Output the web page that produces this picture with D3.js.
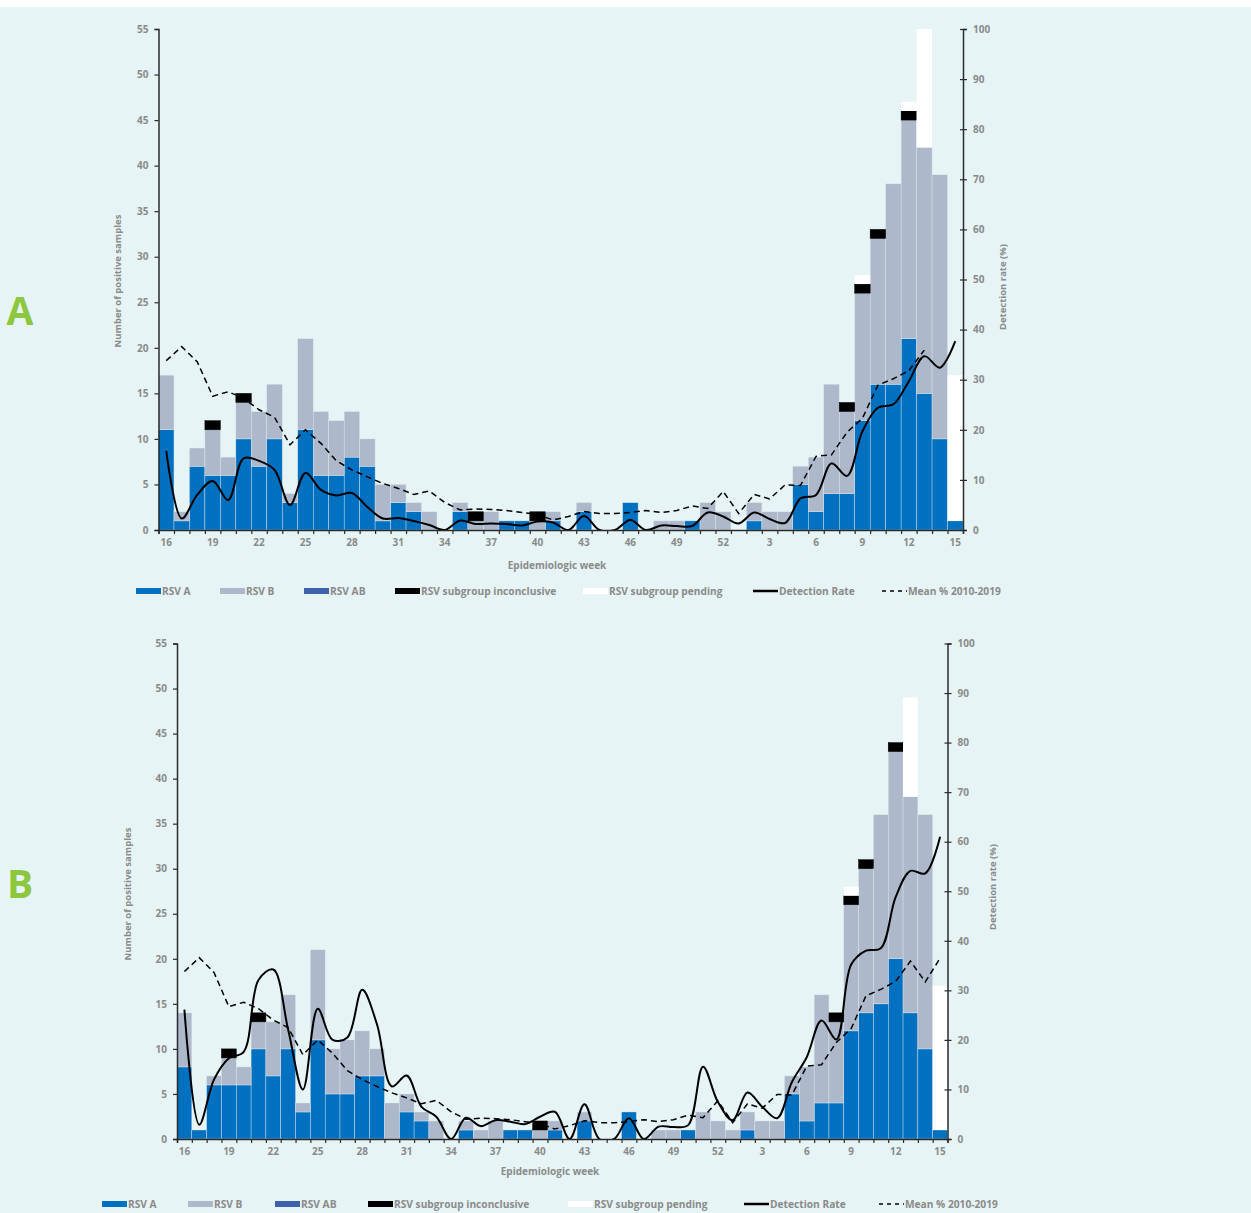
<!DOCTYPE html>
<html><head><meta charset="utf-8">
<script src="https://cdn.jsdelivr.net/npm/d3@7"></script>
<style>body{margin:0;background:#fff}svg{display:block}</style>
</head><body><svg id="c" width="1251" height="1213"></svg>
<script>
// ---------- DATA ----------
const weeks = [16,17,18,19,20,21,22,23,24,25,26,27,28,29,30,31,32,33,34,35,36,37,38,39,40,41,42,43,44,45,46,47,48,49,50,51,52,
               1,2,3,4,5,6,7,8,9,10,11,12,13,14,15];
const weekTickLabels = [16,19,22,25,28,31,34,37,40,43,46,49,52,3,6,9,12,15];
const countTicks = [0,5,10,15,20,25,30,35,40,45,50,55];
const rateTicks = [0,10,20,30,40,50,60,70,80,90,100];
const legendLabels = ["RSV A","RSV B","RSV AB","RSV subgroup inconclusive","RSV subgroup pending","Detection Rate","Mean % 2010-2019"];

// Panel A
const rsvA_A = [11,1,7,6,6,10,7,10,3,11,6,6,8,7,1,3,2,0,0,2,0,0,1,1,0,1,0,2,0,0,3,0,0,0,1,0,0,
                0,1,0,0,5,2,4,4,12,16,16,21,15,10,1];
const rsvB_A = [6,1,2,5,2,4,6,6,1,10,7,6,5,3,4,2,1,2,0,1,1,2,0,0,1,1,0,1,0,0,0,0,1,1,0,3,2,
                0,2,2,2,2,6,12,9,14,16,22,24,27,29,0];
const rsvAB_A = [0,0,0,0,0,0,0,0,0,0,0,0,0,0,0,0,0,0,0,0,0,0,0,0,0,0,0,0,0,0,0,0,0,0,0,0,0,
                 0,0,0,0,0,0,0,0,0,0,0,0,0,0,0];
const inconc_A = [0,0,0,1,0,1,0,0,0,0,0,0,0,0,0,0,0,0,0,0,1,0,0,0,1,0,0,0,0,0,0,0,0,0,0,0,0,
                  0,0,0,0,0,0,0,1,1,1,0,1,0,0,0];
const pending_A = [0,0,0,0,0,0,0,0,0,0,0,0,0,0,0,0,0,0,0,0,0,0,0,0,0,0,0,0,0,0,0,0,0,0,0,0,0,
                   0,0,0,0,0,0,0,0,1,0,0,1,13,0,16];
const detRate_A = [15.8,2.3,7.0,9.8,6.0,14.3,13.8,12.0,5.0,11.4,8.0,6.9,7.4,4.6,2.3,2.4,
                   1.8,1.0,0,1.9,1.2,1.3,1.2,0.9,1.7,1.5,0,2.8,0,0,2.0,0,0.9,0.8,0.8,3.5,2.7,
                   1.3,3.5,2.2,1.4,6.3,7.0,13.3,10.8,19.7,24.4,25.1,29.7,34.7,32.4,37.7];
const mean_A = [33.8,36.6,33.6,26.7,27.6,26.3,24.0,22.5,17.0,20.0,17.3,13.8,12.0,10.6,9.3,8.3,
                7.1,7.8,5.5,4.0,4.2,4.1,3.9,3.5,3.1,2.0,2.7,3.7,3.3,3.3,3.5,3.9,3.5,3.9,4.8,4.3,7.7,
                3.3,7.1,6.2,9.0,8.9,14.7,15.0,19.5,22.3,28.9,30.2,31.8,35.9];

// Panel B
const rsvA_B = [8,1,6,6,6,10,7,10,3,11,5,5,7,7,0,3,2,0,0,1,0,0,1,1,0,1,0,2,0,0,3,0,0,0,1,0,0,
                0,1,0,0,5,2,4,4,12,14,15,20,14,10,1];
const rsvB_B = [6,0,1,3,2,3,6,6,1,10,5,6,5,3,4,2,1,2,0,1,1,2,0,0,1,1,0,1,0,0,0,0,1,1,0,3,2,
                1,2,2,2,2,6,12,9,14,16,21,23,24,26,0];
const rsvAB_B = [0,0,0,0,0,0,0,0,0,0,0,0,0,0,0,0,0,0,0,0,0,0,0,0,0,0,0,0,0,0,0,0,0,0,0,0,0,
                 0,0,0,0,0,0,0,0,0,0,0,0,0,0,0];
const inconc_B = [0,0,0,1,0,1,0,0,0,0,0,0,0,0,0,0,0,0,0,0,0,0,0,0,1,0,0,0,0,0,0,0,0,0,0,0,0,
                  0,0,0,0,0,0,0,1,1,1,0,1,0,0,0];
const pending_B = [0,0,0,0,0,0,0,0,0,0,0,0,0,0,0,0,0,0,0,0,0,0,0,0,0,0,0,0,0,0,0,0,0,0,0,0,0,
                   0,0,0,0,0,0,0,0,1,0,0,0,11,0,16];
const detRate_B = [26.1,2.9,12.0,16.3,17.6,32.1,34.2,22.1,10.0,26.3,20.0,20.5,30.1,23.1,10.6,12.8,
                   6.5,4.5,0,4.3,2.6,3.8,3.5,3.0,4.5,5.5,0,7.0,0,0,4.2,0,2.5,2.4,2.8,14.6,7.5,
                   3.8,9.4,6.5,4.2,11.5,16.5,23.9,20.1,35.2,38.0,38.5,48.8,54.1,53.6,61.0];
const mean_B = [33.8,36.6,33.6,26.7,27.6,26.3,24.0,22.5,17.0,20.0,17.3,13.8,12.0,10.6,9.3,8.3,
                7.1,7.8,5.5,4.0,4.2,4.1,3.9,3.5,3.1,2.0,2.7,3.7,3.3,3.3,3.5,3.9,3.5,3.9,4.8,4.3,7.7,
                3.3,7.1,6.2,9.0,8.9,14.7,15.0,19.5,22.3,28.9,30.2,31.8,35.9,31.7,36.5];

// ---------- STYLE ----------
const COLORS = {A:"#0070C0", B:"#ADB9CB", AB:"#3E61AC", inc:"#000000", pend:"#FFFFFF"};
const BG = "#E6F4F5";
const TXT = "#8a8a8a";
const FONT = "'Open Sans', 'Noto Sans', sans-serif";

const svg = d3.select("#c");
svg.append("rect").attr("x",0).attr("y",0).attr("width",1251).attr("height",1213).attr("fill","#ffffff");
svg.append("rect").attr("x",0).attr("y",7).attr("width",1251).attr("height",1206).attr("fill",BG);

function drawPanel(cfg) {
  const {L,R,T,B,id} = cfg;
  const g = svg.append("g");
  const x = d3.scaleBand().domain(d3.range(weeks.length)).range([L,R]).padding(0);
  const xb = d3.scaleLinear().domain([0,weeks.length]).range([L,R]);
  const y = d3.scaleLinear().domain([0,55]).range([B,T]);
  const yR = d3.scaleLinear().domain([0,100]).range([B,T]);

  const rows = weeks.map((w,i)=>({i, A:cfg.A[i], B:cfg.Bv[i], AB:cfg.AB[i], inc:cfg.inc[i], pend:cfg.pend[i]}));
  const keys = ["A","B","AB","inc","pend"];
  const series = d3.stack().keys(keys)(rows);

  series.forEach(s=>{
    g.append("g").selectAll("rect").data(s.filter(d=>d[1]-d[0]>0)).join("rect")
      .attr("x", d=>x(d.data.i)).attr("width", x.bandwidth())
      .attr("y", d=>y(d[1])).attr("height", d=>y(d[0])-y(d[1]))
      .attr("fill", COLORS[s.key])
      .attr("stroke", s.key==="inc" ? "#000" : (s.key==="pend" ? "none" : "#dfe8ee"))
      .attr("stroke-width", s.key==="inc" ? 0.5 : 0.4);
  });

  svg.append("clipPath").attr("id","clip"+id).append("rect")
    .attr("x",L).attr("y",T-5).attr("width",R-L).attr("height",B-T+5);

  const cx = i => x(i)+x.bandwidth()/2;
  const lineSmooth = d3.line().x((d,i)=>cx(i)).y(d=>yR(d)).curve(d3.curveCatmullRom.alpha(0.5));
  const lineStraight = d3.line().x((d,i)=>cx(i)).y(d=>yR(d));

  g.append("path").datum(cfg.mean).attr("d", lineStraight).attr("fill","none")
    .attr("stroke","#000").attr("stroke-width",1.5).attr("stroke-dasharray","6,4")
    .attr("clip-path","url(#clip"+id+")");
  g.append("path").datum(cfg.rate).attr("d", lineSmooth).attr("fill","none")
    .attr("stroke","#000").attr("stroke-width",2).attr("clip-path","url(#clip"+id+")");

  const axisColor = "#2b2b2b";
  const left = g.append("g").attr("transform",`translate(${L},0)`)
    .call(d3.axisLeft(y).tickValues(countTicks).tickSize(4).tickPadding(6));
  const right = g.append("g").attr("transform",`translate(${R},0)`)
    .call(d3.axisRight(yR).tickValues(rateTicks).tickSize(4).tickPadding(6));
  right.selectAll(".tick line").attr("x1",-3);
  const bottomTicks = g.append("g").attr("transform",`translate(0,${B})`)
    .call(d3.axisBottom(xb).tickValues(d3.range(0,weeks.length+1)).tickSize(4).tickFormat(""));
  const bottomLabels = g.append("g").attr("transform",`translate(0,${B})`)
    .call(d3.axisBottom(x).tickValues(weekTickLabels.map(w=>weeks.indexOf(w))).tickSize(0).tickPadding(9)
      .tickFormat(i=>weeks[i]));
  bottomLabels.select(".domain").remove();
  [left,right,bottomTicks].forEach(a=>{
    a.select(".domain").attr("stroke",axisColor).attr("stroke-width",1.5);
    a.selectAll(".tick line").attr("stroke",axisColor).attr("stroke-width",1.2);
  });
  [left,right,bottomLabels].forEach(a=>{
    a.selectAll("text").attr("fill",TXT).attr("font-family",FONT).attr("font-weight",700).attr("font-size","10px");
  });

  g.append("text").attr("transform",`translate(${cfg.ltX},${cfg.ltY}) rotate(-90)`)
    .attr("text-anchor","middle").attr("fill",TXT).attr("font-family",FONT).attr("font-weight",700)
    .attr("font-size","9.5px").text("Number of positive samples");
  g.append("text").attr("transform",`translate(${cfg.rtX},${cfg.rtY}) rotate(-90)`)
    .attr("text-anchor","middle").attr("fill",TXT).attr("font-family",FONT).attr("font-weight",700)
    .attr("font-size","9.5px").text("Detection rate (%)");
  g.append("text").attr("x",cfg.xtX).attr("y",cfg.xtY).attr("text-anchor","middle")
    .attr("fill",TXT).attr("font-family",FONT).attr("font-weight",700).attr("font-size","10px")
    .text("Epidemiologic week");

  g.append("text").attr("x",20).attr("y",cfg.letterY).attr("text-anchor","middle")
    .attr("fill","#8DC63F").attr("font-family",FONT).attr("font-weight",700).attr("font-size","39px")
    .text(id);

  const lg = g.append("g").attr("transform",`translate(0,${cfg.legY})`);
  const swatchFill = [COLORS.A, COLORS.B, COLORS.AB, COLORS.inc, COLORS.pend];
  legendLabels.forEach((lab,k)=>{
    const sx = cfg.legX[k];
    if (k < 5) {
      lg.append("rect").attr("x",sx).attr("y",-3).attr("width",25).attr("height",6).attr("fill",swatchFill[k]);
    } else if (k === 5) {
      lg.append("line").attr("x1",sx).attr("x2",sx+25).attr("y1",0).attr("y2",0)
        .attr("stroke","#000").attr("stroke-width",2.5);
    } else {
      lg.append("line").attr("x1",sx).attr("x2",sx+25).attr("y1",0).attr("y2",0)
        .attr("stroke","#000").attr("stroke-width",1.4).attr("stroke-dasharray","4,4");
    }
    lg.append("text").attr("x",sx+26).attr("y",3.6).attr("fill",TXT)
      .attr("font-family",FONT).attr("font-weight",700).attr("font-size","10.2px").text(lab);
  });
}

drawPanel({id:"A", L:158.5, R:963, T:29, B:530,
  A:rsvA_A, Bv:rsvB_A, AB:rsvAB_A, inc:inconc_A, pend:pending_A, rate:detRate_A, mean:mean_A,
  ltX:121, ltY:281, rtX:1006, rtY:287, xtX:557, xtY:569, letterY:325,
  legY:591, legX:[136,220,304,395,583,753,882]});
drawPanel({id:"B", L:177, R:947.5, T:643.5, B:1139,
  A:rsvA_B, Bv:rsvB_B, AB:rsvAB_B, inc:inconc_B, pend:pending_B, rate:detRate_B, mean:mean_B,
  ltX:131, ltY:894, rtX:996, rtY:887, xtX:550, xtY:1175, letterY:898,
  legY:1204, legX:[102,188,275,368,568,744,879]});
</script>
</body></html>
